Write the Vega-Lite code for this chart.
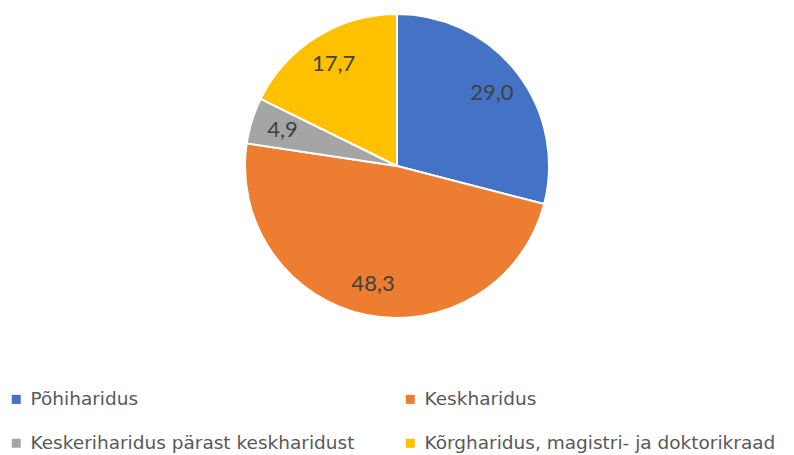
{
  "$schema": "https://vega.github.io/schema/vega-lite/v6.json",
  "width": 794,
  "height": 332,
  "padding": 0,
  "background": "white",
  "data": {
    "values": [
      {"category": "Põhiharidus", "value": 29.0, "label": "29,0", "order": 1},
      {"category": "Keskharidus", "value": 48.3, "label": "48,3", "order": 2},
      {"category": "Keskeriharidus pärast keskharidust", "value": 4.9, "label": "4,9", "order": 3},
      {"category": "Kõrgharidus, magistri- ja doktorikraad", "value": 17.7, "label": "17,7", "order": 4}
    ]
  },
  "encoding": {
    "theta": {"field": "value", "type": "quantitative", "stack": true},
    "order": {"field": "order", "type": "quantitative"}
  },
  "layer": [
    {
      "mark": {"type": "arc", "outerRadius": 152, "stroke": "white", "strokeWidth": 2},
      "encoding": {
        "color": {
          "field": "category",
          "type": "nominal",
          "scale": {
            "domain": ["Põhiharidus", "Keskharidus", "Keskeriharidus pärast keskharidust", "Kõrgharidus, magistri- ja doktorikraad"],
            "range": ["#4472C4", "#ED7D31", "#A5A5A5", "#FFC000"]
          },
          "legend": {
            "title": null,
            "orient": "none",
            "direction": "horizontal",
            "legendX": 7,
            "legendY": 390,
            "padding": 0,
            "columns": 2,
            "columnPadding": 19,
            "rowPadding": 25,
            "gridAlign": "all",
            "symbolType": "square",
            "symbolSize": 81,
            "symbolStrokeWidth": 0,
            "labelFont": "DejaVu Sans",
            "labelFontSize": 18.5,
            "labelColor": "#595959",
            "labelOffset": 5,
            "labelLimit": 500
          }
        }
      }
    },
    {
      "mark": {"type": "text", "radius": 120, "font": "Lato", "fontSize": 22, "color": "#404040"},
      "encoding": {
        "text": {"field": "label", "type": "nominal"}
      }
    }
  ]
}
